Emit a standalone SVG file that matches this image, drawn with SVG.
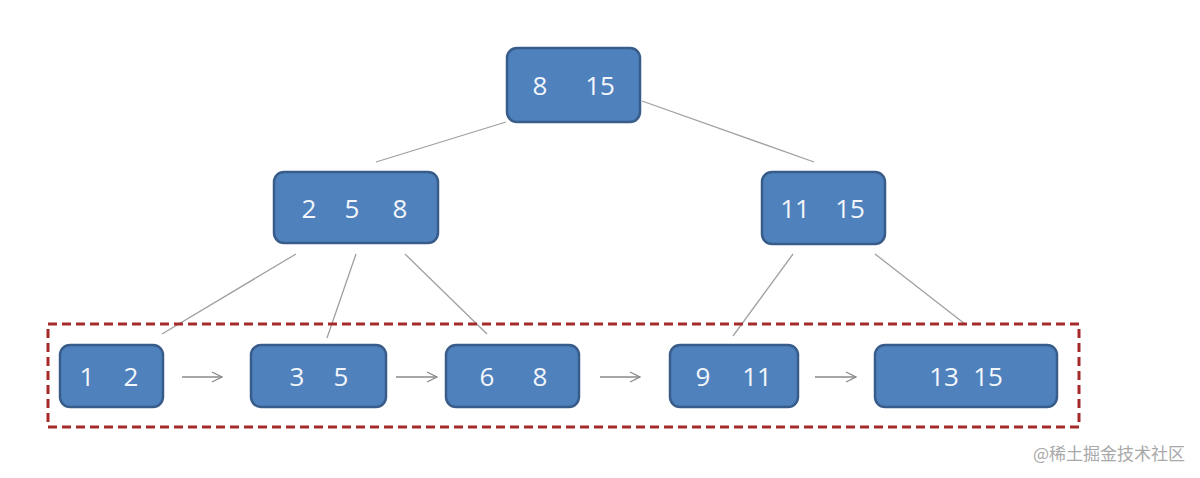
<svg xmlns="http://www.w3.org/2000/svg" width="1200" height="478" viewBox="0 0 1200 478">
<defs>
<style>
.node rect{fill:#4f81bd;stroke:#385d8a;stroke-width:2.5}
.node text{fill:#f2f6fb;font-family:"Open Sans","Liberation Sans",sans-serif;font-size:26px;text-anchor:middle;dominant-baseline:central}
.edge{stroke:#a0a0a0;stroke-width:1.3;fill:none}
.arr{stroke:#8a8a8a;stroke-width:1.3;fill:none}
</style>
<marker id="ah" viewBox="0 0 12 12" refX="11" refY="6" markerWidth="12" markerHeight="12" markerUnits="userSpaceOnUse" orient="auto">
<path d="M1,1 L11,6 L1,11" fill="none" stroke="#8a8a8a" stroke-width="1.3"/>
</marker>
</defs>
<rect width="1200" height="478" fill="#ffffff"/>
<g id="connectors">
<line class="edge" x1="506" y1="122" x2="376" y2="162"/>
<line class="edge" x1="642" y1="101" x2="814" y2="162"/>
<line class="edge" x1="296" y1="254" x2="162" y2="334"/>
<line class="edge" x1="356" y1="254" x2="327" y2="338"/>
<line class="edge" x1="405" y1="254" x2="487" y2="334"/>
<line class="edge" x1="793" y1="254" x2="733" y2="336"/>
<line class="edge" x1="875" y1="254" x2="965" y2="324"/>
<line class="arr" x1="182" y1="377" x2="222" y2="377" marker-end="url(#ah)"/>
<line class="arr" x1="396" y1="377" x2="437" y2="377" marker-end="url(#ah)"/>
<line class="arr" x1="600" y1="377" x2="640" y2="377" marker-end="url(#ah)"/>
<line class="arr" x1="815" y1="377" x2="856" y2="377" marker-end="url(#ah)"/>
</g>
<rect id="leaf-frame" x="48" y="324" width="1031" height="103" fill="none" stroke="#a52a2a" stroke-width="3" stroke-dasharray="9,5"/>
<g id="root" class="node"><rect x="507" y="48" width="133" height="74" rx="10"/><text x="540" y="85">8</text><text x="600" y="85">15</text></g>
<g id="mid-left" class="node"><rect x="274" y="172" width="164" height="71" rx="10"/><text x="309" y="208">2</text><text x="352" y="208">5</text><text x="400" y="208">8</text></g>
<g id="mid-right" class="node"><rect x="762" y="172" width="123" height="72" rx="10"/><text x="795" y="208">11</text><text x="850" y="208">15</text></g>
<g id="leaf1" class="node"><rect x="60" y="345" width="103" height="62" rx="10"/><text x="87" y="376">1</text><text x="131" y="376">2</text></g>
<g id="leaf2" class="node"><rect x="251" y="345" width="135" height="62" rx="10"/><text x="297" y="376">3</text><text x="341" y="376">5</text></g>
<g id="leaf3" class="node"><rect x="446" y="345" width="133" height="62" rx="10"/><text x="487" y="376">6</text><text x="540" y="376">8</text></g>
<g id="leaf4" class="node"><rect x="670" y="345" width="128" height="62" rx="10"/><text x="703" y="376">9</text><text x="757" y="376">11</text></g>
<g id="leaf5" class="node"><rect x="875" y="345" width="182" height="62" rx="10"/><text x="944" y="376">13</text><text x="988" y="376">15</text></g>
<text x="1185" y="452" text-anchor="end" dominant-baseline="central" font-family="'Noto Sans CJK SC',sans-serif" font-size="17" fill="#a8a8a8">@稀土掘金技术社区</text>
</svg>
